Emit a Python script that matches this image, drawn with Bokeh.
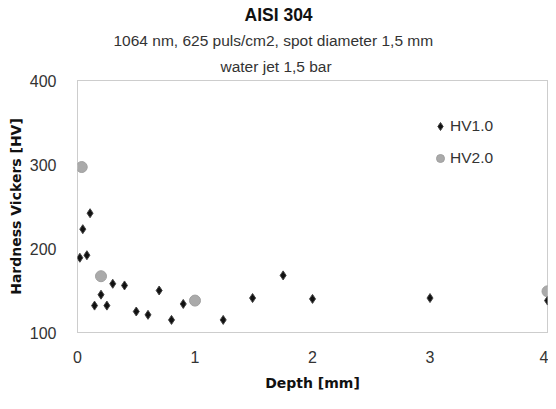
from bokeh.plotting import figure
from bokeh.models import Title, Legend, LegendItem, FixedTicker, Range1d
from bokeh.embed import file_html
from bokeh.resources import INLINE

# Data
hv1_depth = [0.02, 0.045, 0.08, 0.107, 0.145, 0.2, 0.25, 0.3, 0.4, 0.5, 0.6, 0.695,
             0.8, 0.9, 1.24, 1.49, 1.75, 2.0, 3.0, 4.0]
hv1_hard = [189, 223, 192, 242, 132, 145, 132, 158, 156, 125, 121, 150,
            115, 134, 115, 141, 168, 140, 141, 138]
hv2_depth = [0.036, 0.2, 1.0, 4.0]
hv2_hard = [297, 167, 138, 149]

x_ticks = [0, 1, 2, 3, 4]
y_ticks = [100, 200, 300, 400]

title_text = "AISI 304"
subtitle1 = "1064 nm, 625 puls/cm2,  spot diameter 1,5 mm"
subtitle2 = "water jet 1,5 bar"

p = figure(width=548, height=393, output_backend="svg", toolbar_location=None,
           x_range=Range1d(0, 4), y_range=Range1d(100, 400),
           min_border_left=77, min_border_right=1, min_border_top=80, min_border_bottom=61)
p.background_fill_color = "white"
p.border_fill_color = "white"
p.grid.visible = False
p.outline_line_color = "#9a9a9a"
p.outline_line_dash = "1 1"
p.outline_line_width = 1

# titles: first added = closest to the plot
p.add_layout(Title(text=subtitle2, align="left", offset=143, text_font="Liberation Sans",
                   text_font_size="15.5px", text_font_style="normal",
                   text_color="#333333", standoff=11), "above")
p.add_layout(Title(text=subtitle1, align="left", offset=36, text_font="Liberation Sans",
                   text_font_size="15.5px", text_font_style="normal",
                   text_color="#333333", standoff=4), "above")
p.title.text = title_text
p.title.align = "left"
p.title.offset = 167
p.title.text_font = "Liberation Sans"
p.title.text_font_size = "17.5px"
p.title.text_font_style = "bold"
p.title.text_color = "#111111"
p.title.standoff = 5

tick_font = "Liberation Sans"
for ax in (p.xaxis[0], p.yaxis[0]):
    ax.axis_line_color = None
    ax.major_tick_line_color = None
    ax.minor_tick_line_color = None
    ax.major_label_text_font = tick_font
    ax.major_label_text_font_size = "16px"
    ax.major_label_text_color = "#333333"
    ax.axis_label_text_font = "DejaVu Sans"
    ax.axis_label_text_font_size = "14px"
    ax.axis_label_text_font_style = "bold"
    ax.axis_label_text_color = "#111111"

p.xaxis.ticker = FixedTicker(ticks=x_ticks)
p.yaxis.ticker = FixedTicker(ticks=y_ticks)
p.xaxis.major_label_standoff = 12
p.yaxis.major_label_standoff = 15
p.xaxis.axis_label = "Depth [mm]"
p.yaxis.axis_label = "Hardness Vickers [HV]"
p.xaxis.axis_label_standoff = 9
p.yaxis.axis_label_standoff = 3

r1 = p.scatter(hv1_depth, hv1_hard, marker="diamond", size=9,
               fill_color="#111111", line_color="#444444", line_width=1)
r2 = p.scatter(hv2_depth, hv2_hard, marker="circle", size=11,
               fill_color="#aaaaaa", line_color="#a0a0a0", line_width=1)

legend = Legend(items=[LegendItem(label="HV1.0", renderers=[r1]),
                       LegendItem(label="HV2.0", renderers=[r2])],
                location=(353, 163), orientation="vertical",
                glyph_width=20, glyph_height=22, label_height=22,
                label_standoff=0, spacing=10, padding=0, margin=0,
                border_line_color=None, background_fill_alpha=0,
                label_text_font="Liberation Sans", label_text_font_size="15.5px",
                label_text_color="#333333")
p.add_layout(legend, "center")

open("out.html", "w").write(file_html(p, INLINE))
